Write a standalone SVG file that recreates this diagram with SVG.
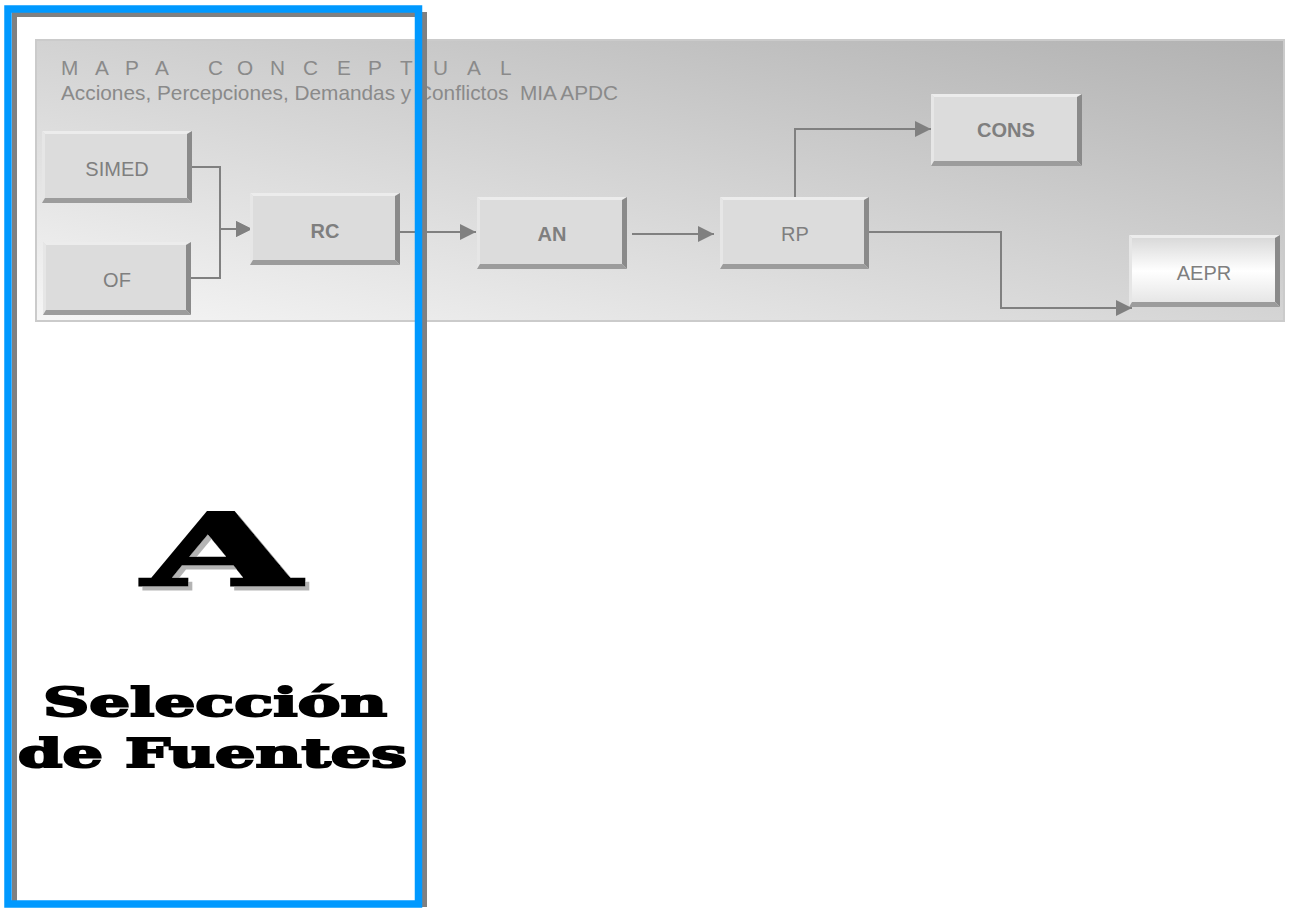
<svg xmlns="http://www.w3.org/2000/svg" width="1289" height="908" viewBox="0 0 1289 908">
<defs>
<linearGradient id="panelGrad" gradientUnits="userSpaceOnUse" x1="1280" y1="45" x2="1165" y2="592">
<stop offset="0" stop-color="#b2b2b2"/>
<stop offset="1" stop-color="#fafafa"/>
</linearGradient>
<linearGradient id="aeprGrad" x1="0" y1="0" x2="0" y2="1">
<stop offset="0" stop-color="#d6d6d6"/>
<stop offset="0.5" stop-color="#ffffff"/>
<stop offset="1" stop-color="#e2e2e2"/>
</linearGradient>
<filter id="shadow" x="-10%" y="-10%" width="130%" height="130%">
<feFlood flood-color="#b4b4b4" result="c"/>
<feComposite in="c" in2="SourceAlpha" operator="in" result="s"/>
<feOffset in="s" dx="4" dy="4" result="o"/>
<feMerge><feMergeNode in="o"/><feMergeNode in="SourceGraphic"/></feMerge>
</filter>
<marker id="arr" markerUnits="userSpaceOnUse" markerWidth="17" markerHeight="17" refX="16" refY="8" orient="auto">
<path d="M0,0 L16,8 L0,16 Z" fill="#808080"/>
</marker>
<style>
.face{fill:#dcdcdc}
.lt{fill:#ececec}
.ll{fill:#e6e6e6}
.dr{fill:#8a8a8a}
.db{fill:#9c9c9c}
.lbl{font-family:"Liberation Sans",Arial,sans-serif;font-size:20px;fill:#7f7f7f;text-anchor:middle}
.b{font-weight:bold}
.conn{fill:none;stroke:#808080;stroke-width:2}
.head{font-family:"Liberation Sans",Arial,sans-serif;font-size:20.8px;fill:#8a8a8a}
.big{font-family:"DejaVu Serif","Liberation Serif",serif;font-weight:bold;fill:#000;stroke:#000}
</style>
</defs>
<rect width="1289" height="908" fill="#ffffff"/>
<g id="panel">
<rect x="36" y="40" width="1248" height="281" fill="url(#panelGrad)" stroke="#cbcbcb" stroke-width="2"/>
<text class="head" xml:space="preserve" x="61 78 95 112 125 140 155 170 180 194 208 222 237 253 270 287 303 320 337 352 368 384 400 417 433 450 467 484 500" y="75">M A P A   C O N C E P T U A L</text>
<text class="head" xml:space="preserve" x="61" y="100">Acciones, Percepciones, Demandas y Conflictos  MIA APDC</text>
</g>
<g id="connectors">
<path class="conn" d="M190,167 H220 V229 H252" marker-end="url(#arr)"/>
<path class="conn" d="M187,278 H220 V229 H252" marker-end="url(#arr)"/>
<path class="conn" d="M395,232 H476" marker-end="url(#arr)"/>
<path class="conn" d="M632,234 H714" marker-end="url(#arr)"/>
<path class="conn" d="M795,197 V129 H931" marker-end="url(#arr)"/>
<path class="conn" d="M868,232 H1001 V308 H1132" marker-end="url(#arr)"/>
</g>
<g id="node-simed">
<rect class="face" x="42" y="131" width="150" height="72"/>
<polygon class="lt" points="42,131 192,131 187,134 45,134"/>
<polygon class="ll" points="42,131 45,134 45,198 42,203"/>
<polygon class="dr" points="192,131 192,203 187,198 187,134"/>
<polygon class="db" points="42,203 192,203 187,198 45,198"/>
<text class="lbl" x="117" y="176">SIMED</text>
</g>
<g id="node-of">
<rect class="face" x="43" y="242" width="148" height="73"/>
<polygon class="lt" points="43,242 191,242 186,245 46,245"/>
<polygon class="ll" points="43,242 46,245 46,310 43,315"/>
<polygon class="dr" points="191,242 191,315 186,310 186,245"/>
<polygon class="db" points="43,315 191,315 186,310 46,310"/>
<text class="lbl" x="117" y="287">OF</text>
</g>
<g id="node-rc">
<rect class="face" x="250" y="193" width="150" height="72"/>
<polygon class="lt" points="250,193 400,193 395,196 253,196"/>
<polygon class="ll" points="250,193 253,196 253,260 250,265"/>
<polygon class="dr" points="400,193 400,265 395,260 395,196"/>
<polygon class="db" points="250,265 400,265 395,260 253,260"/>
<text class="lbl b" x="325" y="238">RC</text>
</g>
<g id="node-an">
<rect class="face" x="477" y="197" width="150" height="72"/>
<polygon class="lt" points="477,197 627,197 622,200 480,200"/>
<polygon class="ll" points="477,197 480,200 480,264 477,269"/>
<polygon class="dr" points="627,197 627,269 622,264 622,200"/>
<polygon class="db" points="477,269 627,269 622,264 480,264"/>
<text class="lbl b" x="552" y="241">AN</text>
</g>
<g id="node-rp">
<rect class="face" x="720" y="197" width="149" height="72"/>
<polygon class="lt" points="720,197 869,197 864,200 723,200"/>
<polygon class="ll" points="720,197 723,200 723,264 720,269"/>
<polygon class="dr" points="869,197 869,269 864,264 864,200"/>
<polygon class="db" points="720,269 869,269 864,264 723,264"/>
<text class="lbl" x="795" y="241">RP</text>
</g>
<g id="node-cons">
<rect class="face" x="931" y="94" width="151" height="72"/>
<polygon class="lt" points="931,94 1082,94 1077,97 934,97"/>
<polygon class="ll" points="931,94 934,97 934,161 931,166"/>
<polygon class="dr" points="1082,94 1082,166 1077,161 1077,97"/>
<polygon class="db" points="931,166 1082,166 1077,161 934,161"/>
<text class="lbl b" x="1006" y="137">CONS</text>
</g>
<g id="node-aepr">
<rect x="1129" y="235" width="151" height="72" fill="url(#aeprGrad)"/>
<polygon class="lt" points="1129,235 1280,235 1275,238 1132,238"/>
<polygon class="ll" points="1129,235 1132,238 1132,302 1129,307"/>
<polygon class="dr" points="1280,235 1280,307 1275,302 1275,238"/>
<polygon class="db" points="1129,307 1280,307 1275,302 1132,302"/>
<text class="lbl" x="1204" y="280">AEPR</text>
</g>
<g id="frame">
<rect x="14.5" y="14.5" width="410" height="890" fill="none" stroke="#808080" stroke-width="5"/>
<rect x="8" y="9" width="410.5" height="895" fill="none" stroke="#0099ff" stroke-width="7.5"/>
</g>
<g id="title-a">
<text class="big" x="143" y="585" font-size="100" textLength="157" lengthAdjust="spacingAndGlyphs" stroke-width="3" filter="url(#shadow)">A</text>
<text class="big" x="43" y="716" font-size="40" textLength="344" lengthAdjust="spacingAndGlyphs" stroke-width="2">Selección</text>
<text class="big" x="18" y="767" font-size="40" textLength="389" lengthAdjust="spacingAndGlyphs" stroke-width="2">de Fuentes</text>
</g>
</svg>
